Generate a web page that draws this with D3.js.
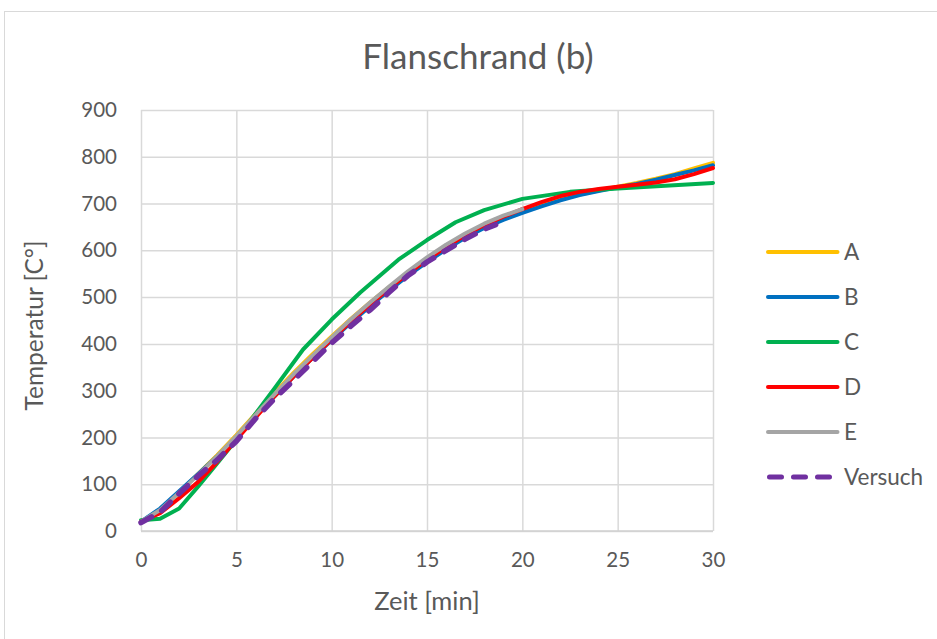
<!DOCTYPE html>
<html>
<head>
<meta charset="utf-8">
<script src="https://cdn.jsdelivr.net/npm/d3@7"></script>
<style>
  html, body { margin: 0; padding: 0; background: #ffffff; }
  svg { display: block; font-family: Lato, "Open Sans", sans-serif; }
</style>
</head>
<body>
<svg id="chart" width="937" height="639"></svg>
<script>
// ---------- data ----------
const chartTitle = "Flanschrand (b)";
const xTitle = "Zeit [min]";
const yTitle = "Temperatur [C°]";
const xTicks = [0, 5, 10, 15, 20, 25, 30];
const yTicks = [0, 100, 200, 300, 400, 500, 600, 700, 800, 900];
const seriesNames = ["A", "B", "C", "D", "E", "Versuch"];

const timeA = [0,1,2,3,4,5,6,7,8,9,10,11,12,13,14,15,16,17,18,19,20,21,22,23,24,25,26,27,28,29,30];
const tempA = [20,45,82,122,162,205,250,295,338,378,416,453,488,521,552,581,607,631,651,668,683,697,709,719,728,736,744,753,763,775,787];

const timeB = [0,1,2,3,4,5,6,7,8,9,10,11,12,13,14,15,16,17,18,19,20,21,22,23,24,25,26,27,28,29,30];
const tempB = [20,48,85,122,160,200,245,288,330,370,408,445,480,514,546,575,602,627,648,665,680,694,707,718,727,735,742,751,761,771,782];

const timeC = [0,1,2,3,4,5,6,7,8.5,10,11.5,13.5,15,16.5,18,20,22.5,25,27.5,30];
const tempC = [23,26,48,95,145,195,250,305,388,452,510,580,622,660,686,710,725,732,738,744];

const timeD = [0,1,2,3,4,5,6,7,8,9,10,11,12,13,14,15,16,17,18,19,20,21,22,23,24,25,26,27,28,29,30];
const tempD = [20,38,70,105,148,195,242,288,330,370,410,448,484,518,550,580,607,632,654,672,688,703,716,725,731,736,740,745,752,763,776];

const timeE = [0,1,2,3,4,5,6,7,8,9,10,11,12,13,14,15,16,17,18,19,20];
const tempE = [20,45,82,120,160,203,248,292,335,375,414,452,488,522,555,585,612,636,657,674,688];

const timeV = [0,1,2,3,4,5,6,7,8,9,10,11,12,13,14,15,16,17,18,18.6];
const tempV = [18,40,80,118,152,192,240,283,322,362,402,438,472,510,546,575,600,624,645,655];

const seriesColors = ["#FFC000", "#0070C0", "#00B050", "#FF0000", "#A5A5A5", "#7030A0"];

// ---------- layout ----------
const svg = d3.select("#chart");
const plot = { left: 141, right: 713, top: 110, bottom: 531 };
const textColor = "#595959";
const gridColor = "#D9D9D9";

// outer chart border (cropped at right and bottom)
svg.append("rect")
  .attr("x", 4.5).attr("y", 11.5)
  .attr("width", 1000).attr("height", 1000)
  .attr("fill", "none").attr("stroke", gridColor).attr("stroke-width", 1);

const x = d3.scaleLinear().domain([0, 30]).range([plot.left, plot.right]);
const y = d3.scaleLinear().domain([0, 900]).range([plot.bottom, plot.top]);

// gridlines
const gy = svg.append("g")
  .attr("transform", `translate(${plot.left},0)`)
  .call(d3.axisLeft(y).tickValues(yTicks).tickSize(-(plot.right - plot.left)).tickFormat(""));
gy.select(".domain").remove();
gy.selectAll("line").attr("stroke", gridColor).attr("stroke-width", 1.5);

const gx = svg.append("g")
  .attr("transform", `translate(0,${plot.bottom})`)
  .call(d3.axisBottom(x).tickValues(xTicks).tickSize(-(plot.bottom - plot.top)).tickFormat(""));
gx.select(".domain").remove();
gx.selectAll("line").attr("stroke", gridColor).attr("stroke-width", 1.5);

// x axis line
svg.append("line")
  .attr("x1", plot.left).attr("x2", plot.right)
  .attr("y1", plot.bottom).attr("y2", plot.bottom)
  .attr("stroke", "#D0D0D0").attr("stroke-width", 1.5);

// tick labels
const tickFont = 20.5;
const legendFont = 22.5;
const xl = svg.append("g")
  .attr("transform", `translate(0,${plot.bottom})`)
  .call(d3.axisBottom(x).tickValues(xTicks).tickSize(0).tickPadding(21));
xl.select(".domain").remove();
xl.selectAll("text").attr("fill", textColor).attr("font-size", tickFont).attr("font-family", "Lato, 'Open Sans', sans-serif");

const yl = svg.append("g")
  .attr("transform", `translate(${plot.left},0)`)
  .call(d3.axisLeft(y).tickValues(yTicks).tickSize(0).tickPadding(24));
yl.select(".domain").remove();
yl.selectAll("text").attr("fill", textColor).attr("font-size", tickFont).attr("font-family", "Lato, 'Open Sans', sans-serif");

// titles
svg.append("text")
  .attr("x", 478).attr("y", 69)
  .attr("text-anchor", "middle")
  .attr("fill", textColor).attr("font-size", 35)
  .text(chartTitle);

svg.append("text")
  .attr("x", (plot.left + plot.right) / 2).attr("y", 610)
  .attr("text-anchor", "middle")
  .attr("fill", textColor).attr("font-size", 25.5)
  .text(xTitle);

svg.append("text")
  .attr("transform", `translate(43,${(plot.top + plot.bottom) / 2 + 5}) rotate(-90)`)
  .attr("text-anchor", "middle")
  .attr("fill", textColor).attr("font-size", 24.5)
  .text(yTitle);

// series
const allSeries = [
  { name: seriesNames[0], t: timeA, v: tempA },
  { name: seriesNames[1], t: timeB, v: tempB },
  { name: seriesNames[2], t: timeC, v: tempC },
  { name: seriesNames[3], t: timeD, v: tempD },
  { name: seriesNames[4], t: timeE, v: tempE },
  { name: seriesNames[5], t: timeV, v: tempV }
];

const line = d3.line().x(d => x(d[0])).y(d => y(d[1]));

allSeries.forEach((s, i) => {
  const pts = s.t.map((t, j) => [t, s.v[j]]);
  const dashed = i === 5;
  svg.append("path")
    .datum(pts)
    .attr("d", line)
    .attr("fill", "none")
    .attr("stroke", seriesColors[i])
    .attr("stroke-width", dashed ? 5.5 : 4)
    .attr("stroke-linecap", "round")
    .attr("stroke-linejoin", "round")
    .attr("stroke-dasharray", dashed ? "12,12" : null);
});

// legend
const legend = svg.append("g");
allSeries.forEach((s, i) => {
  const ly = 252 + i * 45;
  const dashed = i === 5;
  legend.append("line")
    .attr("x1", dashed ? 769.5 : 768).attr("x2", dashed ? 837 : 837.5)
    .attr("y1", ly).attr("y2", ly)
    .attr("stroke", seriesColors[i])
    .attr("stroke-width", dashed ? 5 : 4)
    .attr("stroke-linecap", "round")
    .attr("stroke-dasharray", dashed ? "12,12" : null);
  legend.append("text")
    .attr("x", 844).attr("y", ly)
    .attr("dy", "0.36em")
    .attr("fill", textColor).attr("font-size", legendFont)
    .text(s.name);
});
</script>
</body>
</html>
